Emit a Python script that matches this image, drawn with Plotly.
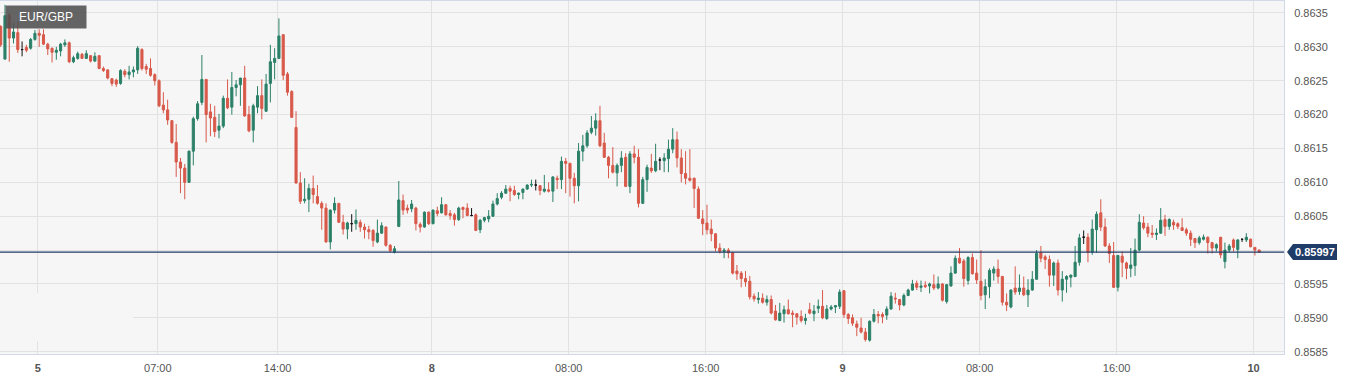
import plotly.graph_objects as go

symbol = "EUR/GBP"
last_price = 0.85997

tick_labels = ["<b>5</b>", "07:00", "14:00", "<b>8</b>", "08:00", "16:00",
               "<b>9</b>", "08:00", "16:00", "<b>10</b>"]
tick_index = [8.7, 36.7, 64.7, 100.7, 132.7, 164.7, 196.7, 228.7, 260.7, 292.7]
y_ticks = [0.8585, 0.8590, 0.8595, 0.8600, 0.8605, 0.8610, 0.8615, 0.8620,
           0.8625, 0.8630, 0.8635]
# 0.8600 label is hidden behind the last-price tag in the reference
y_tick_text = ["0.8585", "0.8590", "0.8595", "", "0.8605", "0.8610", "0.8615",
               "0.8620", "0.8625", "0.8630", "0.8635"]

open_ = [
    0.86330, 0.86282, 0.86347, 0.86313, 0.86321, 0.86296, 0.86299, 0.86298, 0.86311, 0.86320,
    0.86318, 0.86304, 0.86298, 0.86292, 0.86294, 0.86303, 0.86306, 0.86278, 0.86283, 0.86289,
    0.86283, 0.86287, 0.86279, 0.86287, 0.86268, 0.86266, 0.86253, 0.86251, 0.86246, 0.86264,
    0.86259, 0.86263, 0.86266, 0.86296, 0.86271, 0.86268, 0.86259, 0.86250, 0.86214, 0.86207,
    0.86191, 0.86159, 0.86130, 0.86121, 0.86100, 0.86146, 0.86194, 0.86218, 0.86252, 0.86204,
    0.86196, 0.86177, 0.86183, 0.86224, 0.86211, 0.86240, 0.86244, 0.86254, 0.86200, 0.86177,
    0.86211, 0.86228, 0.86205, 0.86246, 0.86277, 0.86283, 0.86318, 0.86260, 0.86234, 0.86181,
    0.86099, 0.86073, 0.86075, 0.86091, 0.86079, 0.86069, 0.86062, 0.86012, 0.86059, 0.86069,
    0.86041, 0.86031, 0.86039, 0.86039, 0.86041, 0.86034, 0.86030, 0.86029, 0.86012, 0.86025,
    0.86034, 0.86007, 0.85997, 0.86035, 0.86073, 0.86062, 0.86061, 0.86062, 0.86038, 0.86034,
    0.86056, 0.86039, 0.86058, 0.86055, 0.86067, 0.86054, 0.86052, 0.86045, 0.86063, 0.86062,
    0.86051, 0.86052, 0.86030, 0.86044, 0.86046, 0.86050, 0.86068, 0.86078, 0.86084, 0.86091,
    0.86088, 0.86082, 0.86085, 0.86090, 0.86096, 0.86096, 0.86095, 0.86087, 0.86089, 0.86087,
    0.86106, 0.86104, 0.86131, 0.86128, 0.86106, 0.86095, 0.86146, 0.86154, 0.86174, 0.86180,
    0.86191, 0.86158, 0.86137, 0.86125, 0.86114, 0.86125, 0.86137, 0.86094, 0.86142, 0.86137,
    0.86069, 0.86104, 0.86121, 0.86117, 0.86133, 0.86132, 0.86135, 0.86149, 0.86163, 0.86136,
    0.86113, 0.86106, 0.86106, 0.86090, 0.86046, 0.86040, 0.86031, 0.86024, 0.86003, 0.85998,
    0.86000, 0.85996, 0.85969, 0.85966, 0.85958, 0.85954, 0.85932, 0.85927, 0.85929, 0.85923,
    0.85927, 0.85910, 0.85896, 0.85906, 0.85912, 0.85907, 0.85906, 0.85902, 0.85896, 0.85912,
    0.85906, 0.85914, 0.85917, 0.85899, 0.85913, 0.85916, 0.85917, 0.85940, 0.85905, 0.85900,
    0.85891, 0.85885, 0.85879, 0.85867, 0.85895, 0.85905, 0.85905, 0.85904, 0.85913, 0.85929,
    0.85927, 0.85919, 0.85933, 0.85941, 0.85951, 0.85945, 0.85948, 0.85947, 0.85949, 0.85944,
    0.85950, 0.85924, 0.85947, 0.85966, 0.85988, 0.85984, 0.85955, 0.85989, 0.85966, 0.85954,
    0.85934, 0.85946, 0.85966, 0.85972, 0.85961, 0.85923, 0.85916, 0.85944, 0.85939, 0.85944,
    0.85934, 0.85941, 0.85957, 0.85996, 0.85990, 0.85986, 0.85963, 0.85981, 0.85941, 0.85957,
    0.85960, 0.85961, 0.85982, 0.86019, 0.86019, 0.85997, 0.86030, 0.86055, 0.86034, 0.86006,
    0.85992, 0.85945, 0.85991, 0.85981, 0.85973, 0.85977, 0.86000, 0.86040, 0.86034, 0.86025,
    0.86023, 0.86025, 0.86045, 0.86035, 0.86041, 0.86039, 0.86033, 0.86030, 0.86025, 0.86017,
    0.86011, 0.86016, 0.86019, 0.86011, 0.86003, 0.86019, 0.85983, 0.86000, 0.86015, 0.86001,
    0.86016, 0.86015, 0.86016, 0.86004, 0.86000,
]

high = [
    0.86332, 0.86362, 0.86350, 0.86335, 0.86337, 0.86308, 0.86303, 0.86313, 0.86325, 0.86326,
    0.86326, 0.86306, 0.86299, 0.86300, 0.86306, 0.86311, 0.86308, 0.86287, 0.86293, 0.86291,
    0.86295, 0.86288, 0.86292, 0.86288, 0.86271, 0.86267, 0.86254, 0.86253, 0.86267, 0.86267,
    0.86272, 0.86271, 0.86301, 0.86298, 0.86275, 0.86283, 0.86261, 0.86252, 0.86233, 0.86222,
    0.86192, 0.86186, 0.86136, 0.86127, 0.86147, 0.86197, 0.86220, 0.86288, 0.86252, 0.86216,
    0.86213, 0.86201, 0.86228, 0.86252, 0.86263, 0.86251, 0.86254, 0.86272, 0.86213, 0.86216,
    0.86242, 0.86252, 0.86260, 0.86303, 0.86298, 0.86342, 0.86318, 0.86263, 0.86236, 0.86205,
    0.86115, 0.86106, 0.86098, 0.86110, 0.86096, 0.86072, 0.86069, 0.86060, 0.86078, 0.86069,
    0.86052, 0.86042, 0.86053, 0.86060, 0.86045, 0.86039, 0.86036, 0.86031, 0.86045, 0.86041,
    0.86035, 0.86009, 0.86006, 0.86102, 0.86082, 0.86067, 0.86074, 0.86064, 0.86041, 0.86057,
    0.86057, 0.86060, 0.86064, 0.86078, 0.86068, 0.86059, 0.86055, 0.86064, 0.86064, 0.86069,
    0.86062, 0.86054, 0.86046, 0.86049, 0.86059, 0.86073, 0.86084, 0.86087, 0.86096, 0.86095,
    0.86095, 0.86085, 0.86091, 0.86097, 0.86104, 0.86104, 0.86096, 0.86111, 0.86100, 0.86109,
    0.86110, 0.86138, 0.86136, 0.86129, 0.86114, 0.86158, 0.86170, 0.86177, 0.86198, 0.86202,
    0.86213, 0.86173, 0.86139, 0.86152, 0.86128, 0.86146, 0.86143, 0.86146, 0.86154, 0.86149,
    0.86108, 0.86126, 0.86142, 0.86157, 0.86137, 0.86143, 0.86163, 0.86180, 0.86175, 0.86149,
    0.86146, 0.86149, 0.86107, 0.86094, 0.86059, 0.86067, 0.86045, 0.86025, 0.86010, 0.86003,
    0.86003, 0.85997, 0.85978, 0.85969, 0.85969, 0.85962, 0.85936, 0.85938, 0.85936, 0.85933,
    0.85933, 0.85919, 0.85922, 0.85918, 0.85927, 0.85911, 0.85907, 0.85911, 0.85906, 0.85922,
    0.85919, 0.85927, 0.85941, 0.85919, 0.85919, 0.85919, 0.85942, 0.85941, 0.85907, 0.85905,
    0.85896, 0.85900, 0.85885, 0.85896, 0.85913, 0.85910, 0.85908, 0.85917, 0.85938, 0.85937,
    0.85928, 0.85936, 0.85943, 0.85956, 0.85955, 0.85955, 0.85954, 0.85952, 0.85964, 0.85961,
    0.85951, 0.85950, 0.85976, 0.85992, 0.86003, 0.85987, 0.85991, 0.85995, 0.85986, 0.86000,
    0.85957, 0.85973, 0.85976, 0.85986, 0.85962, 0.85936, 0.85942, 0.85976, 0.85964, 0.85961,
    0.85957, 0.85969, 0.86000, 0.86006, 0.85993, 0.85992, 0.85983, 0.85986, 0.85969, 0.85963,
    0.85964, 0.86006, 0.86024, 0.86029, 0.86025, 0.86045, 0.86057, 0.86075, 0.86047, 0.86010,
    0.86012, 0.85993, 0.85998, 0.85983, 0.86003, 0.86017, 0.86053, 0.86050, 0.86040, 0.86037,
    0.86032, 0.86062, 0.86052, 0.86047, 0.86045, 0.86041, 0.86047, 0.86033, 0.86029, 0.86018,
    0.86021, 0.86023, 0.86020, 0.86012, 0.86010, 0.86019, 0.86011, 0.86009, 0.86017, 0.86016,
    0.86016, 0.86025, 0.86017, 0.86004, 0.86001,
]

low = [
    0.86300, 0.86281, 0.86278, 0.86305, 0.86291, 0.86286, 0.86292, 0.86296, 0.86309, 0.86300,
    0.86303, 0.86288, 0.86277, 0.86281, 0.86286, 0.86300, 0.86276, 0.86276, 0.86281, 0.86282,
    0.86282, 0.86277, 0.86278, 0.86267, 0.86263, 0.86252, 0.86242, 0.86241, 0.86244, 0.86255,
    0.86252, 0.86255, 0.86260, 0.86265, 0.86260, 0.86256, 0.86243, 0.86211, 0.86202, 0.86185,
    0.86157, 0.86108, 0.86084, 0.86075, 0.86099, 0.86125, 0.86191, 0.86214, 0.86159, 0.86168,
    0.86167, 0.86165, 0.86180, 0.86208, 0.86200, 0.86227, 0.86213, 0.86197, 0.86174, 0.86159,
    0.86202, 0.86193, 0.86204, 0.86218, 0.86252, 0.86282, 0.86251, 0.86228, 0.86195, 0.86098,
    0.86068, 0.86069, 0.86056, 0.86069, 0.86067, 0.86030, 0.86011, 0.86001, 0.86054, 0.86040,
    0.86023, 0.86016, 0.86027, 0.86030, 0.86027, 0.86017, 0.86016, 0.86005, 0.86010, 0.86024,
    0.86005, 0.85997, 0.85995, 0.86034, 0.86052, 0.86054, 0.86056, 0.86029, 0.86026, 0.86033,
    0.86037, 0.86038, 0.86050, 0.86054, 0.86051, 0.86045, 0.86036, 0.86043, 0.86047, 0.86050,
    0.86050, 0.86028, 0.86025, 0.86041, 0.86041, 0.86049, 0.86066, 0.86075, 0.86083, 0.86072,
    0.86080, 0.86075, 0.86075, 0.86089, 0.86093, 0.86088, 0.86081, 0.86085, 0.86085, 0.86071,
    0.86090, 0.86090, 0.86084, 0.86079, 0.86069, 0.86072, 0.86131, 0.86151, 0.86171, 0.86169,
    0.86152, 0.86136, 0.86106, 0.86113, 0.86094, 0.86115, 0.86093, 0.86084, 0.86128, 0.86063,
    0.86068, 0.86086, 0.86114, 0.86115, 0.86118, 0.86115, 0.86115, 0.86143, 0.86122, 0.86100,
    0.86097, 0.86101, 0.86062, 0.86046, 0.86022, 0.86023, 0.86013, 0.85998, 0.85995, 0.85988,
    0.85988, 0.85964, 0.85956, 0.85945, 0.85946, 0.85927, 0.85924, 0.85921, 0.85921, 0.85918,
    0.85905, 0.85896, 0.85895, 0.85893, 0.85905, 0.85886, 0.85890, 0.85893, 0.85890, 0.85905,
    0.85895, 0.85907, 0.85898, 0.85897, 0.85911, 0.85907, 0.85913, 0.85900, 0.85891, 0.85888,
    0.85873, 0.85877, 0.85865, 0.85865, 0.85893, 0.85892, 0.85892, 0.85897, 0.85912, 0.85921,
    0.85911, 0.85917, 0.85932, 0.85940, 0.85941, 0.85938, 0.85944, 0.85936, 0.85941, 0.85942,
    0.85924, 0.85921, 0.85946, 0.85965, 0.85980, 0.85946, 0.85949, 0.85964, 0.85950, 0.85926,
    0.85913, 0.85929, 0.85955, 0.85951, 0.85918, 0.85910, 0.85914, 0.85934, 0.85934, 0.85932,
    0.85916, 0.85940, 0.85956, 0.85982, 0.85972, 0.85946, 0.85947, 0.85933, 0.85924, 0.85937,
    0.85945, 0.85960, 0.85977, 0.86009, 0.85982, 0.85993, 0.85996, 0.86028, 0.86005, 0.85981,
    0.85944, 0.85939, 0.85960, 0.85957, 0.85960, 0.85962, 0.85998, 0.86030, 0.86019, 0.86018,
    0.86015, 0.86024, 0.86021, 0.86030, 0.86030, 0.86031, 0.86028, 0.86021, 0.86006, 0.86003,
    0.86008, 0.86014, 0.85995, 0.85995, 0.85998, 0.85988, 0.85973, 0.85997, 0.85998, 0.85988,
    0.86012, 0.86012, 0.86004, 0.85992, 0.85996,
]

close = [
    0.86303, 0.86346, 0.86313, 0.86322, 0.86296, 0.86296, 0.86295, 0.86311, 0.86320, 0.86317,
    0.86304, 0.86297, 0.86292, 0.86295, 0.86304, 0.86306, 0.86278, 0.86284, 0.86290, 0.86283,
    0.86290, 0.86279, 0.86286, 0.86268, 0.86265, 0.86254, 0.86246, 0.86245, 0.86265, 0.86259,
    0.86263, 0.86266, 0.86298, 0.86268, 0.86267, 0.86258, 0.86250, 0.86213, 0.86207, 0.86192,
    0.86159, 0.86130, 0.86121, 0.86100, 0.86146, 0.86194, 0.86216, 0.86252, 0.86200, 0.86195,
    0.86175, 0.86183, 0.86224, 0.86210, 0.86240, 0.86244, 0.86254, 0.86198, 0.86176, 0.86213,
    0.86228, 0.86209, 0.86245, 0.86278, 0.86283, 0.86316, 0.86258, 0.86233, 0.86196, 0.86099,
    0.86072, 0.86075, 0.86091, 0.86082, 0.86069, 0.86062, 0.86012, 0.86059, 0.86069, 0.86041,
    0.86031, 0.86040, 0.86039, 0.86044, 0.86034, 0.86030, 0.86027, 0.86014, 0.86025, 0.86036,
    0.86007, 0.85999, 0.86002, 0.86074, 0.86059, 0.86059, 0.86068, 0.86039, 0.86034, 0.86056,
    0.86039, 0.86059, 0.86054, 0.86067, 0.86052, 0.86051, 0.86045, 0.86062, 0.86060, 0.86051,
    0.86051, 0.86029, 0.86044, 0.86048, 0.86050, 0.86068, 0.86076, 0.86084, 0.86090, 0.86087,
    0.86082, 0.86084, 0.86090, 0.86096, 0.86097, 0.86096, 0.86088, 0.86090, 0.86087, 0.86108,
    0.86104, 0.86131, 0.86128, 0.86106, 0.86095, 0.86146, 0.86154, 0.86173, 0.86180, 0.86191,
    0.86154, 0.86137, 0.86125, 0.86115, 0.86125, 0.86136, 0.86094, 0.86142, 0.86137, 0.86069,
    0.86104, 0.86122, 0.86117, 0.86131, 0.86133, 0.86136, 0.86149, 0.86163, 0.86136, 0.86113,
    0.86106, 0.86103, 0.86091, 0.86047, 0.86039, 0.86030, 0.86024, 0.86003, 0.85998, 0.86000,
    0.85996, 0.85966, 0.85965, 0.85958, 0.85953, 0.85931, 0.85928, 0.85929, 0.85923, 0.85927,
    0.85907, 0.85897, 0.85907, 0.85912, 0.85906, 0.85905, 0.85901, 0.85896, 0.85899, 0.85907,
    0.85910, 0.85917, 0.85900, 0.85913, 0.85916, 0.85918, 0.85938, 0.85905, 0.85899, 0.85892,
    0.85886, 0.85879, 0.85868, 0.85895, 0.85905, 0.85903, 0.85902, 0.85913, 0.85932, 0.85928,
    0.85919, 0.85933, 0.85941, 0.85950, 0.85945, 0.85947, 0.85946, 0.85950, 0.85944, 0.85950,
    0.85926, 0.85949, 0.85966, 0.85988, 0.85981, 0.85958, 0.85989, 0.85965, 0.85956, 0.85933,
    0.85946, 0.85970, 0.85972, 0.85961, 0.85923, 0.85919, 0.85941, 0.85938, 0.85944, 0.85934,
    0.85941, 0.85957, 0.85995, 0.85988, 0.85986, 0.85963, 0.85981, 0.85941, 0.85957, 0.85961,
    0.85963, 0.85982, 0.86018, 0.86019, 0.85997, 0.86031, 0.86053, 0.86034, 0.86006, 0.85995,
    0.85945, 0.85992, 0.85982, 0.85973, 0.85978, 0.86000, 0.86041, 0.86033, 0.86025, 0.86023,
    0.86025, 0.86044, 0.86035, 0.86045, 0.86037, 0.86035, 0.86029, 0.86025, 0.86016, 0.86011,
    0.86018, 0.86019, 0.86011, 0.86003, 0.86008, 0.85993, 0.86000, 0.86006, 0.86004, 0.86015,
    0.86016, 0.86019, 0.86005, 0.86000, 0.85997,
]

UP = "#2b8068"
DOWN = "#d8594a"
DOJI = "#111111"
NAVY = "#1f3b68"
GRID = "#e2e2e2"
BORDER = "#d2d9e8"
FONT = "Liberation Sans, Arial, sans-serif"

idx = list(range(len(open_)))
main_i = [i for i in idx if open_[i] != close[i]]
doji_i = [i for i in idx if open_[i] == close[i]]


def pick(arr, ids):
    return [arr[i] for i in ids]


fig = go.Figure()
fig.add_trace(go.Candlestick(
    x=main_i, open=pick(open_, main_i), high=pick(high, main_i),
    low=pick(low, main_i), close=pick(close, main_i),
    increasing=dict(line=dict(color=UP, width=1), fillcolor=UP),
    decreasing=dict(line=dict(color=DOWN, width=1), fillcolor=DOWN),
    whiskerwidth=0, showlegend=False, name=symbol,
))
fig.add_trace(go.Candlestick(
    x=doji_i, open=pick(open_, doji_i), high=pick(high, doji_i),
    low=pick(low, doji_i), close=pick(close, doji_i),
    increasing=dict(line=dict(color=DOJI, width=1), fillcolor=DOJI),
    decreasing=dict(line=dict(color=DOJI, width=1), fillcolor=DOJI),
    whiskerwidth=0, showlegend=False, name=symbol,
))

fig.update_layout(
    width=1355, height=380,
    margin=dict(l=0, r=71, t=1, b=26),
    paper_bgcolor="white", plot_bgcolor="#f6f6f6",
    showlegend=False,
    font=dict(family=FONT, size=11, color="#555555"),
    xaxis=dict(
        range=[-0.16, 299.8], tickvals=tick_index, ticktext=tick_labels,
        showgrid=True, gridcolor=GRID, gridwidth=1, zeroline=False,
        rangeslider=dict(visible=False), showline=True, linecolor=BORDER,
        linewidth=1, mirror=True, ticks="", ticklabelstandoff=4,
        tickfont=dict(size=11, color="#555555"),
    ),
    yaxis=dict(
        range=[0.858466, 0.863677], side="right", tickvals=y_ticks,
        ticktext=y_tick_text, showgrid=True, gridcolor=GRID, gridwidth=1,
        zeroline=False, showline=True, linecolor=BORDER, linewidth=1,
        mirror=True, ticks="", ticklabelstandoff=7,
        tickfont=dict(size=11, color="#555555"),
    ),
    shapes=[
        # blank box area at lower left
        dict(type="rect", layer="above", xref="paper", xsizemode="pixel", xanchor=0,
             x0=-2, x1=133, yref="paper", ysizemode="pixel", yanchor=0,
             y0=13, y1=61, fillcolor="#f6f6f6", line=dict(width=0)),
        # last price line
        dict(type="line", xref="paper", x0=0, x1=1, yref="y",
             y0=last_price, y1=last_price, line=dict(color=NAVY, width=1.2)),
        # last price tag
        dict(type="path", xref="paper", xsizemode="pixel", xanchor=1,
             yref="y", ysizemode="pixel", yanchor=last_price,
             path="M 3,0 L 9,8 L 53,8 L 53,-8 L 9,-8 Z",
             fillcolor=NAVY, line=dict(width=0)),
    ],
    annotations=[
        dict(text=symbol, xref="paper", yref="paper", x=0, y=1,
             xanchor="left", yanchor="top", xshift=5, yshift=-4,
             showarrow=False, bgcolor="rgba(80,80,80,0.88)",
             width=80, height=22, borderpad=0,
             font=dict(color="white", size=12, family=FONT)),
        dict(text="<b>%.5f</b>" % last_price, xref="paper", yref="y",
             x=1, y=last_price, xanchor="left", yanchor="middle", xshift=9,
             showarrow=False,
             font=dict(color="white", size=11, family=FONT)),
    ],
)

fig.write_html("out.html", config={"displayModeBar": False},
               post_script="document.body.style.margin='0';")
